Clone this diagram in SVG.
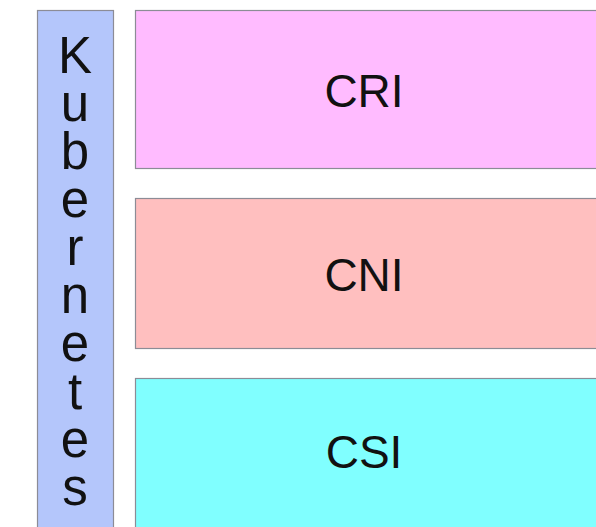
<svg xmlns="http://www.w3.org/2000/svg" width="596" height="527" viewBox="0 0 596 527">
<style>
.box{stroke:#8c8c96;stroke-width:1.2}
.lbl{font-family:"Liberation Sans",Arial,sans-serif;font-size:46px;fill:#111;text-anchor:middle}
.k{font-family:"Liberation Sans",Arial,sans-serif;font-size:51px;fill:#111;text-anchor:middle}
</style>
<rect width="596" height="527" fill="#ffffff"/>
<g id="kubernetes">
<rect class="box" x="37.5" y="10.5" width="76" height="530" fill="#b4c6fb"/>
<text class="k" x="75" y="73">K</text>
<text class="k" x="75" y="121">u</text>
<text class="k" x="75" y="169">b</text>
<text class="k" x="75" y="217">e</text>
<text class="k" x="75" y="265">r</text>
<text class="k" x="75" y="313">n</text>
<text class="k" x="75" y="361">e</text>
<text class="k" x="75" y="409">t</text>
<text class="k" x="75" y="457">e</text>
<text class="k" x="75" y="505">s</text>
</g>
<g id="cri">
<rect class="box" x="135.5" y="10.5" width="470" height="158" fill="#ffbbff"/>
<text class="lbl" x="364" y="107">CRI</text>
</g>
<g id="cni">
<rect class="box" x="135.5" y="198.5" width="470" height="150" fill="#ffbfbf"/>
<text class="lbl" x="364" y="291">CNI</text>
</g>
<g id="csi">
<rect class="box" x="135.5" y="378.5" width="470" height="160" fill="#80ffff"/>
<text class="lbl" x="364" y="468">CSI</text>
</g>
<g id="connectors"/>
</svg>
